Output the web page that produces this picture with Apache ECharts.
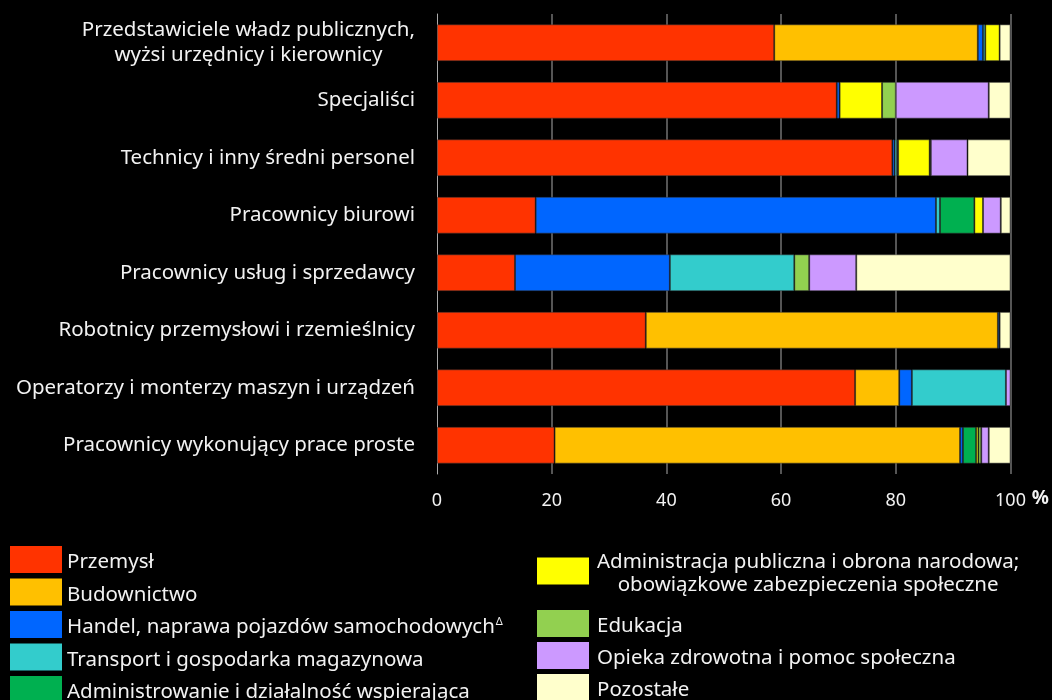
<!DOCTYPE html>
<html>
<head>
<meta charset="utf-8">
<script src="https://cdn.jsdelivr.net/npm/echarts@6/dist/echarts.min.js"></script>
<style>
html,body{margin:0;padding:0;background:#000;}
#chart{width:1052px;height:700px;}
</style>
</head>
<body>
<div id="chart"></div>
<script>
var categories = [
  'Przedstawiciele władz publicznych,\nwyżsi urzędnicy i kierownicy',
  'Specjaliści',
  'Technicy i inny średni personel',
  'Pracownicy biurowi',
  'Pracownicy usług i sprzedawcy',
  'Robotnicy przemysłowi i rzemieślnicy',
  'Operatorzy i monterzy maszyn i urządzeń',
  'Pracownicy wykonujący prace proste'
];
var seriesNames = [
  'Przemysł',
  'Budownictwo',
  'Handel, naprawa pojazdów samochodowych',
  'Transport i gospodarka magazynowa',
  'Administrowanie i działalność wspierająca',
  'Administracja publiczna i obrona narodowa;\nobowiązkowe zabezpieczenia społeczne',
  'Edukacja',
  'Opieka zdrowotna i pomoc społeczna',
  'Pozostałe'
];
var przemysl        = [58.8, 69.7, 79.4, 17.2, 13.6, 36.4, 72.9, 20.5];
var budownictwo     = [35.5, 0, 0, 0, 0, 61.4, 7.7, 70.7];
var handel          = [0.9, 0.5, 0.4, 69.8, 27.0, 0.3, 2.2, 0.5];
var transport       = [0.4, 0, 0.4, 0.7, 21.7, 0, 16.4, 0];
var administrowanie = [0, 0, 0.2, 6.0, 0, 0, 0, 2.3];
var adminPubliczna  = [2.5, 7.4, 5.5, 1.5, 0, 0, 0, 0.4];
var edukacja        = [0, 2.4, 0.2, 0, 2.6, 0, 0, 0.5];
var opieka          = [0, 16.2, 6.4, 3.1, 8.2, 0, 0.8, 1.3];
var pozostale       = [1.9, 3.8, 7.5, 1.7, 26.9, 1.9, 0, 3.8];
var xTicks = [0, 20, 40, 60, 80, 100];

var colors = ['#ff3300', '#ffc000', '#0066ff', '#33cccc', '#00b050', '#ffff00', '#92d050', '#cc99ff', '#ffffcc'];
var values = [przemysl, budownictwo, handel, transport, administrowanie, adminPubliczna, edukacja, opieka, pozostale];

var FONT = 'Noto Sans';
var FS = 20.5;
var chart = echarts.init(document.getElementById('chart'));

var series = seriesNames.map(function (n, i) {
  return {
    name: n,
    type: 'bar',
    stack: 'total',
    barCategoryGap: '36%',
    itemStyle: { color: colors[i], borderColor: 'rgba(50,50,50,0.5)', borderWidth: 1 },
    emphasis: { disabled: true },
    data: values[i].map(function (v) { return v === 0 ? null : v; })
  };
});

function makeLegend(extra, padLeft) {
  return Object.assign({
    orient: 'vertical',
    icon: 'rect',
    itemWidth: 52,
    itemHeight: 27,
    padding: 0,
    height: 220,
    width: 500,
    selectedMode: false,
    itemStyle: { borderWidth: 0 },
    textStyle: {
      color: '#f2f2f2', fontFamily: FONT, fontSize: FS,
      padding: [6, 0, 0, padLeft],
      rich: {
        t: { color: '#f2f2f2', fontFamily: FONT, fontSize: FS },
        s: { color: '#f2f2f2', fontFamily: FONT, fontSize: 11, verticalAlign: 'top', padding: [0, 0, 12, 1] },
        c: { color: '#f2f2f2', fontFamily: FONT, fontSize: FS, align: 'center', lineHeight: 23 }
      }
    },
    formatter: function (name) {
      if (name === seriesNames[2]) return '{t|' + name + '}{s|Δ}';
      if (name === seriesNames[5]) return name.split('\n').map(function (l) { return '{c|' + l + '}'; }).join('\n');
      return name;
    }
  }, extra);
}

var option = {
  backgroundColor: '#000',
  animation: false,
  grid: { left: 437, right: 40, top: 14, height: 460, containLabel: false },
  xAxis: {
    type: 'value',
    min: 0, max: 100, interval: 20,
    name: '%',
    nameLocation: 'end',
    nameGap: 19,
    nameTextStyle: { color: '#f2f2f2', fontFamily: FONT, fontSize: 19, fontWeight: 'bold', verticalAlign: 'top', padding: [15, 0, 0, 0] },
    axisLine: { show: false },
    axisTick: { show: false },
    axisLabel: {
      color: '#f2f2f2', fontFamily: FONT, fontSize: 18, margin: 18,
      formatter: function (v) { return xTicks.indexOf(v) >= 0 ? String(v) : ''; }
    },
    splitLine: { show: true, showMinLine: false, lineStyle: { color: '#555', width: 2 } }
  },
  yAxis: {
    type: 'category',
    inverse: true,
    data: categories,
    axisLine: { show: true, lineStyle: { color: '#aaa', width: 1 } },
    axisTick: { show: false },
    axisLabel: {
      color: '#f2f2f2', fontFamily: FONT, fontSize: FS, margin: 22, align: 'right',
      formatter: function (v) { return v.split('\n').map(function (l) { return '{c|' + l + '}'; }).join('\n'); },
      rich: { c: { color: '#f2f2f2', fontFamily: FONT, fontSize: FS, align: 'center', lineHeight: 25 } }
    }
  },
  legend: [
    makeLegend({ left: 10, top: 546, itemGap: 5.5, data: seriesNames.slice(0, 5) }, 0),
    makeLegend({ left: 537, top: 552, itemGap: 5, data: [seriesNames[5]] }, 3),
    makeLegend({ left: 537, top: 610, itemGap: 5, data: seriesNames.slice(6) }, 3)
  ],
  series: series
};
chart.setOption(option);
</script>
</body>
</html>
